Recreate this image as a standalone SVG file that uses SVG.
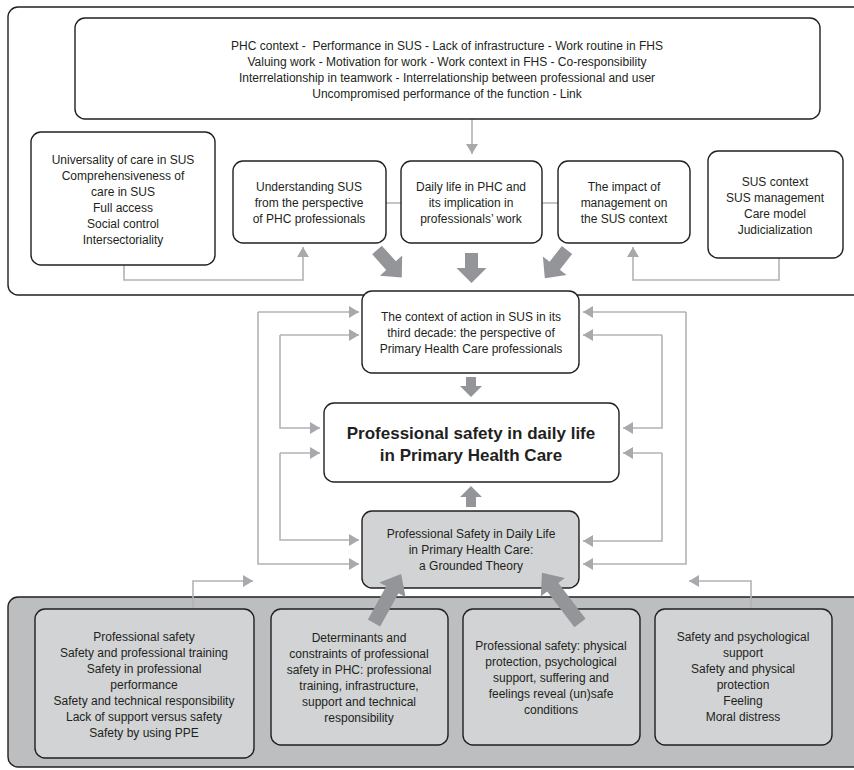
<svg xmlns="http://www.w3.org/2000/svg" width="854" height="770" viewBox="0 0 854 770">
<defs>
<style>
text{font-family:"Liberation Sans",Arial,sans-serif;font-size:12px;fill:#231f20;text-anchor:middle}
.b{font-weight:bold;font-size:17px}
.box{fill:#fff;stroke:#231f20;stroke-width:1.4}
.gbox{fill:#d1d3d4;stroke:#231f20;stroke-width:1.4}
.outer{fill:#fff;stroke:#231f20;stroke-width:1.4}
.outerg{fill:#bcbec0;stroke:#231f20;stroke-width:1.4}
.ln{fill:none;stroke:#b1b3b6;stroke-width:1.6}
.thick{fill:#939598}
</style>
<marker id="ah" viewBox="0 0 10 12" refX="10" refY="6" markerWidth="10" markerHeight="12" markerUnits="userSpaceOnUse" orient="auto">
<path d="M0,0 L10,6 L0,12 z" fill="#a7a9ac"/>
</marker>
</defs>
<rect x="0" y="0" width="854" height="770" fill="#fff"/>

<g id="top-frame"><rect class="outer" x="8" y="7" width="870" height="288" rx="10"/></g>
<g id="bottom-frame"><rect class="outerg" x="8" y="597" width="870" height="170" rx="10"/></g>

<g id="connectors">
<path class="ln" d="M472,119 V154" marker-end="url(#ah)"/>
<path class="ln" d="M386,203 H401 M542,203 H558"/>
<path class="ln" d="M124,265 V280 H303 V247" marker-end="url(#ah)"/>
<path class="ln" d="M779,258 V280 H633 V247" marker-end="url(#ah)"/>
<path class="ln" d="M258,312 H359" marker-end="url(#ah)"/>
<path class="ln" d="M258,312 V564 H359" marker-end="url(#ah)"/>
<path class="ln" d="M280,335 H359" marker-end="url(#ah)"/>
<path class="ln" d="M280,335 V428 H320" marker-end="url(#ah)"/>
<path class="ln" d="M280,453 H320" marker-end="url(#ah)"/>
<path class="ln" d="M280,453 V540 H359" marker-end="url(#ah)"/>
<path class="ln" d="M686,312 H583" marker-end="url(#ah)"/>
<path class="ln" d="M686,312 V564 H583" marker-end="url(#ah)"/>
<path class="ln" d="M662,335 H583" marker-end="url(#ah)"/>
<path class="ln" d="M662,335 V428 H623" marker-end="url(#ah)"/>
<path class="ln" d="M662,453 H623" marker-end="url(#ah)"/>
<path class="ln" d="M662,453 V541 H583" marker-end="url(#ah)"/>
<path class="ln" d="M193,608 V581 H253" marker-end="url(#ah)"/>
<path class="ln" d="M751,608 V581 H689" marker-end="url(#ah)"/>
</g>

<g id="n-top">
<rect class="box" x="75" y="18" width="745" height="101" rx="10"/>
<text x="447" y="50" xml:space="preserve">PHC context -  Performance in SUS - Lack of infrastructure - Work routine in FHS</text>
<text x="447" y="66">Valuing work - Motivation for work - Work context in FHS - Co-responsibility</text>
<text x="447" y="82">Interrelationship in teamwork - Interrelationship between professional and user</text>
<text x="447" y="98">Uncompromised performance of the function - Link</text>
</g>
<g id="n-universality">
<rect class="box" x="31" y="132" width="184" height="133" rx="10"/>
<text x="123" y="164">Universality of care in SUS</text>
<text x="123" y="180">Comprehensiveness of</text>
<text x="123" y="196">care in SUS</text>
<text x="123" y="212">Full access</text>
<text x="123" y="228">Social control</text>
<text x="123" y="244">Intersectoriality</text>
</g>
<g id="n-understanding">
<rect class="box" x="233" y="161" width="153" height="82" rx="10"/>
<text x="309" y="191">Understanding SUS</text>
<text x="309" y="207">from the perspective</text>
<text x="309" y="223">of PHC professionals</text>
</g>
<g id="n-daily">
<rect class="box" x="401" y="161" width="141" height="82" rx="10"/>
<text x="471" y="191">Daily life in PHC and</text>
<text x="471" y="207">its implication in</text>
<text x="471" y="223">professionals’ work</text>
</g>
<g id="n-impact">
<rect class="box" x="558" y="161" width="132" height="82" rx="10"/>
<text x="624" y="191">The impact of</text>
<text x="624" y="207">management on</text>
<text x="624" y="223">the SUS context</text>
</g>
<g id="n-sus">
<rect class="box" x="708" y="151" width="135" height="107" rx="10"/>
<text x="775" y="186">SUS context</text>
<text x="775" y="202">SUS management</text>
<text x="775" y="218">Care model</text>
<text x="775" y="234">Judicialization</text>
</g>
<g id="n-context">
<rect class="box" x="362" y="291" width="217" height="82" rx="10"/>
<text x="471" y="321">The context of action in SUS in its</text>
<text x="471" y="337">third decade: the perspective of</text>
<text x="471" y="353">Primary Health Care professionals</text>
</g>
<g id="n-main">
<rect class="box" x="324" y="403" width="295" height="79" rx="10"/>
<text class="b" x="471" y="439">Professional safety in daily life</text>
<text class="b" x="471" y="461">in Primary Health Care</text>
</g>
<g id="n-theory">
<rect class="gbox" x="362" y="511" width="217" height="77" rx="10"/>
<text x="471" y="538">Professional Safety in Daily Life</text>
<text x="471" y="554">in Primary Health Care:</text>
<text x="471" y="570">a Grounded Theory</text>
</g>
<g id="n-safety-list">
<rect class="gbox" x="35" y="609" width="219" height="149" rx="10"/>
<text x="144" y="641">Professional safety</text>
<text x="144" y="657">Safety and professional training</text>
<text x="144" y="673">Safety in professional</text>
<text x="144" y="689">performance</text>
<text x="144" y="705">Safety and technical responsibility</text>
<text x="144" y="721">Lack of support versus safety</text>
<text x="144" y="737">Safety by using PPE</text>
</g>
<g id="n-determinants">
<rect class="gbox" x="271" y="609" width="177" height="136" rx="10"/>
<text x="359" y="642">Determinants and</text>
<text x="359" y="658">constraints of professional</text>
<text x="359" y="674">safety in PHC: professional</text>
<text x="359" y="690">training, infrastructure,</text>
<text x="359" y="706">support and technical</text>
<text x="359" y="722">responsibility</text>
</g>
<g id="n-physical">
<rect class="gbox" x="463" y="609" width="177" height="136" rx="10"/>
<text x="551" y="650">Professional safety: physical</text>
<text x="551" y="666">protection, psychological</text>
<text x="551" y="682">support, suffering and</text>
<text x="551" y="698">feelings reveal (un)safe</text>
<text x="551" y="714">conditions</text>
</g>
<g id="n-psych">
<rect class="gbox" x="655" y="609" width="177" height="136" rx="10"/>
<text x="743" y="641">Safety and psychological</text>
<text x="743" y="657">support</text>
<text x="743" y="673">Safety and physical</text>
<text x="743" y="689">protection</text>
<text x="743" y="705">Feeling</text>
<text x="743" y="721">Moral distress</text>
</g>

<g id="thick-arrows" class="thick">
<polygon transform="translate(471.5,253)" points="-6.5,0 6.5,0 6.5,15 15,15 0,30 -15,15 -6.5,15"/>
<polygon transform="translate(377,250) rotate(-42)" points="-6.5,0 6.5,0 6.5,21 15,21 0,37 -15,21 -6.5,21"/>
<polygon transform="translate(567,250) rotate(38)" points="-6.5,0 6.5,0 6.5,20 15,20 0,36 -15,20 -6.5,20"/>
<polygon transform="translate(471,377)" points="-5,0 5,0 5,9 11,9 0,20 -11,9 -5,9"/>
<polygon transform="translate(471,507) rotate(180)" points="-5,0 5,0 5,10 11,10 0,21 -11,10 -5,10"/>
<polygon transform="translate(374,623) rotate(-151)" points="-7,0 7,0 7,38 15,38 0,56 -15,38 -7,38"/>
<polygon transform="translate(580,623) rotate(142.8)" points="-7,0 7,0 7,45 15,45 0,63 -15,45 -7,45"/>
</g>
</svg>
